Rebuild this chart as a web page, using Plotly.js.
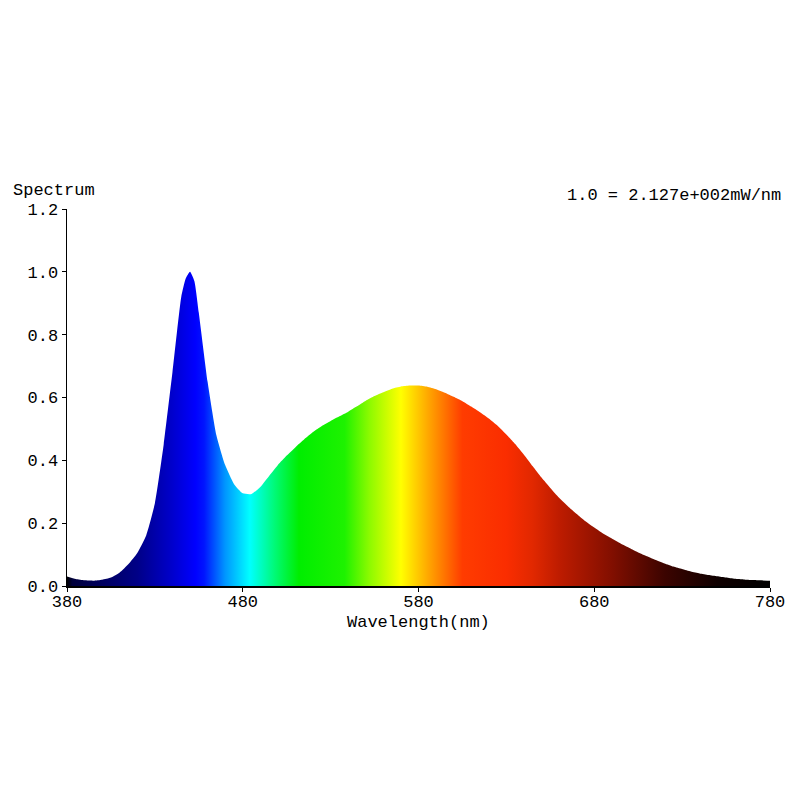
<!DOCTYPE html>
<html>
<head>
<meta charset="utf-8">
<script src="https://cdn.plot.ly/plotly-3.0.1.min.js"></script>
<style>html,body{margin:0;padding:0;background:#fff;}#chart{width:800px;height:800px;}</style>
</head>
<body>
<div id="chart"></div>
<script>
// Wavelength (nm)
const wavelength = [380,385,390,395,400,405,410,415,420,425,430,435,440,445,447.5,450,452.5,455,460,465,470,475,480,485,490,495,500,505,510,515,520,525,530,535,540,545,550,555,560,565,570,575,580,585,590,595,600,605,610,615,620,625,630,635,640,645,650,655,660,665,670,675,680,685,690,695,700,705,710,715,720,725,730,735,740,745,750,755,760,765,770,775,780];
// Relative spectrum
const spectrum = [0.03,0.022,0.018,0.017,0.02,0.027,0.043,0.07,0.105,0.16,0.263,0.45,0.68,0.92,0.978,1.0,0.97,0.87,0.65,0.48,0.385,0.325,0.295,0.293,0.315,0.35,0.385,0.415,0.442,0.467,0.49,0.509,0.525,0.54,0.555,0.572,0.59,0.605,0.617,0.628,0.635,0.638,0.638,0.634,0.626,0.615,0.602,0.588,0.571,0.553,0.533,0.51,0.482,0.452,0.418,0.381,0.345,0.312,0.281,0.254,0.229,0.206,0.186,0.167,0.151,0.135,0.121,0.107,0.095,0.083,0.072,0.062,0.054,0.046,0.04,0.035,0.031,0.027,0.023,0.021,0.019,0.018,0.017];
// Spectral colour stops (wavelength, colour)
const colourWavelengths = [380,383,400,420,440,453,458,470,484,498,512,538,552,570,585,605,630,645,660,690,720,750,780];
const colourValues = ['rgb(0,0,0)','rgb(0,0,60)','rgb(0,0,95)','rgb(0,0,135)','rgb(0,0,205)','rgb(0,0,255)','rgb(0,20,255)','rgb(0,150,255)','rgb(0,255,255)','rgb(0,250,120)','rgb(0,238,0)','rgb(30,242,0)','rgb(140,250,0)','rgb(255,255,0)','rgb(255,170,0)','rgb(255,60,0)','rgb(250,45,0)','rgb(225,40,0)','rgb(190,28,0)','rgb(130,15,0)','rgb(60,4,0)','rgb(15,0,0)','rgb(0,0,0)'];
const xTicks = [380,480,580,680,780];
const yTicks = [0,0.2,0.4,0.6,0.8,1.0,1.2];
const yTickText = ['0.0','0.2','0.4','0.6','0.8','1.0','1.2'];

const wMin = 380, wMax = 780;
const colourscale = colourWavelengths.map((w,i)=>[(w-wMin)/(wMax-wMin), colourValues[i]]);

const font = {family:'"Liberation Mono", "Courier New", monospace', size:17, color:'#000'};

const trace = {
  type:'scatter', mode:'lines', x: wavelength, y: spectrum,
  line:{width:0, shape:'spline', smoothing:0.5, color:'rgba(0,0,0,0)'},
  fill:'tozeroy',
  fillgradient:{type:'horizontal', colorscale: colourscale, start: wMin, stop: wMax},
  hoverinfo:'skip', showlegend:false
};

const layout = {
  width:800, height:800,
  margin:{l:67, r:30, t:209, b:214},
  paper_bgcolor:'#fff', plot_bgcolor:'#fff',
  font: font,
  xaxis:{range:[wMin,wMax], tickvals:xTicks, ticktext:xTicks.map(String), showgrid:false, zeroline:false,
         showline:true, linecolor:'#000', linewidth:2, ticks:'outside', ticklen:4, tickcolor:'#000', tickwidth:1, tickfont:font, fixedrange:true, ticklabelstandoff:-5},
  yaxis:{range:[0,1.2], tickvals:yTicks, ticktext:yTickText, showgrid:false, zeroline:false,
         showline:true, linecolor:'#000', linewidth:1.5, ticks:'outside', ticklen:4, tickcolor:'#000', tickwidth:1, tickfont:font, fixedrange:true},
  annotations:[
    {text:'Spectrum', xref:'paper', yref:'paper', x:-0.079, y:1.048, xanchor:'left', yanchor:'middle', showarrow:false, font:font},
    {text:'1.0 = 2.127e+002mW/nm', xref:'paper', yref:'paper', x:1.0185, y:1.0345, xanchor:'right', yanchor:'middle', showarrow:false, font:font},
    {text:'Wavelength(nm)', xref:'paper', yref:'paper', x:0.5, y:-0.097, xanchor:'center', yanchor:'middle', showarrow:false, font:font}
  ]
};

Plotly.newPlot('chart',[trace],layout,{displayModeBar:false, staticPlot:true});
</script>
</body>
</html>
